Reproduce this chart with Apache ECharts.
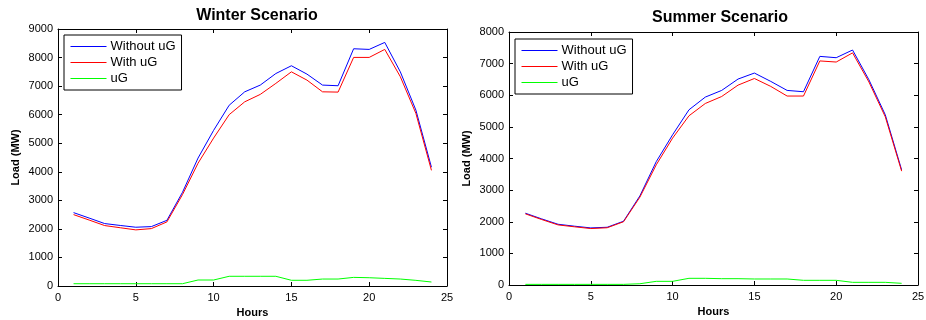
<!DOCTYPE html>
<html>
<head>
<meta charset="utf-8">
<script src="https://cdn.jsdelivr.net/npm/echarts@6/dist/echarts.min.js"></script>
<style>
  html, body { margin: 0; padding: 0; background: #fff; }
  #chart { width: 926px; height: 320px; }
</style>
</head>
<body>
<div id="chart"></div>
<script>
var hours = [1, 2, 3, 4, 5, 6, 7, 8, 9, 10, 11, 12, 13, 14, 15, 16, 17, 18, 19, 20, 21, 22, 23, 24];

var winterWithout = [2570, 2380, 2186, 2120, 2058, 2080, 2300, 3280, 4480, 5450, 6330, 6800, 7036, 7440, 7713, 7420, 7036, 7013, 8308, 8285, 8530, 7500, 6160, 4160];
var winterWith = [2500, 2310, 2116, 2040, 1965, 2010, 2245, 3200, 4300, 5180, 6000, 6450, 6710, 7095, 7500, 7210, 6800, 6790, 8005, 8005, 8285, 7330, 6045, 4050];
var winterUG = [80, 80, 80, 80, 80, 80, 80, 80, 210, 210, 340, 340, 340, 340, 200, 200, 244, 244, 302, 290, 267, 244, 198, 140];

var summerWithout = [2270, 2090, 1920, 1860, 1805, 1826, 2016, 2818, 3900, 4750, 5540, 5942, 6153, 6512, 6702, 6438, 6153, 6111, 7229, 7187, 7430, 6490, 5383, 3640];
var summerWith = [2250, 2070, 1900, 1840, 1785, 1810, 2000, 2778, 3800, 4645, 5350, 5740, 5960, 6320, 6530, 6280, 5975, 5975, 7085, 7050, 7340, 6420, 5320, 3600];
var summerUG = [20, 20, 20, 20, 20, 20, 20, 40, 116, 116, 211, 211, 200, 200, 190, 190, 190, 148, 148, 148, 84, 84, 84, 53];

var seriesNames = ['Without uG', 'With uG', 'uG'];
var colors = ['#0000ff', '#ff0000', '#00ff00'];

var font = '"Liberation Sans", Arial, sans-serif';

function pairs(vals) {
  return hours.map(function (h, i) { return [h, vals[i]]; });
}

function xAxes(gridIndex) {
  var base = {
    type: 'value', gridIndex: gridIndex, min: 0, max: 25, interval: 5,
    axisLine: { show: true, onZero: false, lineStyle: { color: '#000', width: 1 } },
    axisTick: { show: true, inside: true, length: 4, lineStyle: { color: '#000' } },
    splitLine: { show: false }
  };
  return [
    Object.assign({}, base, {
      position: 'bottom',
      name: 'Hours', nameLocation: 'middle', nameGap: 20,
      nameTextStyle: { fontFamily: font, fontSize: 11, fontWeight: 'bold', color: '#000' },
      axisLabel: { fontFamily: font, fontSize: 11, color: '#000', margin: 6 }
    }),
    Object.assign({}, base, { position: 'top', axisLabel: { show: false } })
  ];
}

function yAxes(gridIndex, max) {
  var base = {
    type: 'value', gridIndex: gridIndex, min: 0, max: max, interval: 1000,
    axisLine: { show: true, onZero: false, lineStyle: { color: '#000', width: 1 } },
    axisTick: { show: true, inside: true, length: 4, lineStyle: { color: '#000' } },
    splitLine: { show: false }
  };
  return [
    Object.assign({}, base, {
      position: 'left',
      name: 'Load (MW)', nameLocation: 'middle', nameGap: 37, nameRotate: 90,
      nameTextStyle: { fontFamily: font, fontSize: 11, fontWeight: 'bold', color: '#000' },
      axisLabel: { fontFamily: font, fontSize: 11, color: '#000', margin: 5,
        formatter: function (v) { return String(v); } }
    }),
    Object.assign({}, base, { position: 'right', axisLabel: { show: false } })
  ];
}

function makeSeries(axisIdx, sets) {
  return sets.map(function (vals, i) {
    return {
      name: seriesNames[i], type: 'line',
      xAxisIndex: axisIdx, yAxisIndex: axisIdx,
      data: pairs(vals), symbol: 'none', silent: true, animation: false,
      lineStyle: { color: colors[i], width: 1 },
      itemStyle: { color: colors[i] }
    };
  });
}

function legend(left, top) {
  return {
    orient: 'vertical', left: left, top: top,
    data: seriesNames,
    itemWidth: 36, itemHeight: 14, itemGap: 3,
    padding: [5, 6, 5, 6],
    borderColor: '#000', borderWidth: 1, backgroundColor: '#fff',
    selectedMode: false,
    itemStyle: { opacity: 0 },
    lineStyle: { width: 1 },
    textStyle: { fontFamily: font, fontSize: 13, color: '#000', padding: [0, 0, 0, -1] }
  };
}

var xs = xAxes(0).concat(xAxes(1));
var ys = yAxes(0, 9000).concat(yAxes(1, 8000));

var option = {
  backgroundColor: '#fff',
  animation: false,
  title: [
    { text: 'Winter Scenario', left: 252, top: 3, textAlign: 'center',
      textStyle: { fontFamily: font, fontSize: 16, fontWeight: 'bold', color: '#000' } },
    { text: 'Summer Scenario', left: 715, top: 5, textAlign: 'center',
      textStyle: { fontFamily: font, fontSize: 16, fontWeight: 'bold', color: '#000' } }
  ],
  legend: [legend(64, 35), legend(515, 39)],
  grid: [
    { left: 58, top: 29, width: 389, height: 257, containLabel: false, outerBoundsMode: 'none' },
    { left: 509, top: 32, width: 409, height: 253, containLabel: false, outerBoundsMode: 'none' }
  ],
  xAxis: xs,
  yAxis: ys,
  series: makeSeries(0, [winterWithout, winterWith, winterUG])
    .concat(makeSeries(2, [summerWithout, summerWith, summerUG]))
};

var myChart = echarts.init(document.getElementById('chart'));
myChart.setOption(option);
</script>
</body>
</html>
